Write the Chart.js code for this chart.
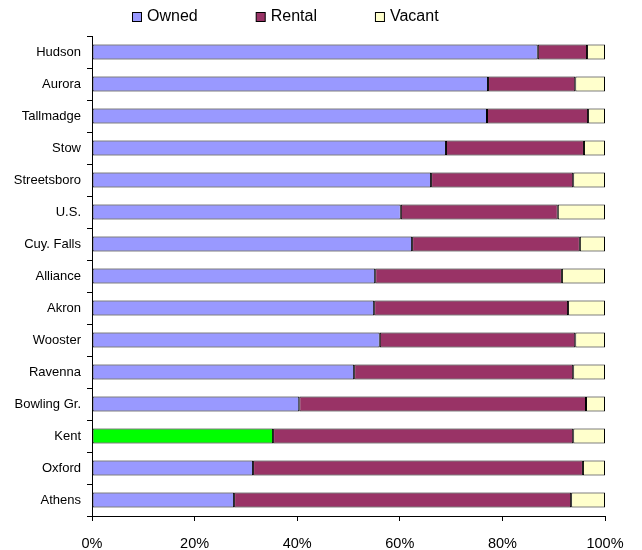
<!DOCTYPE html>
<html>
<head>
<script src="https://cdn.jsdelivr.net/npm/chart.js@4"></script>
<style>
  body { margin: 0; background: #fff; }
</style>
</head>
<body>
<canvas id="myChart" width="642" height="550"></canvas>
<script>
  var places = ['Hudson','Aurora','Tallmadge','Stow','Streetsboro','U.S.','Cuy. Falls','Alliance','Akron','Wooster','Ravenna','Bowling Gr.','Kent','Oxford','Athens']
  var owned  = [86.9, 77.2, 77.0, 69.0, 66.1, 60.2, 62.4, 55.2, 55.0, 56.1, 51.1, 40.4, 35.3, 31.4, 27.7]
  var rental = [ 9.6, 17.0, 19.7, 26.9, 27.7, 30.6, 32.7, 36.4, 37.8, 38.1, 42.7, 55.9, 58.5, 64.3, 65.7]
  var vacant = [ 3.5,  5.8,  3.3,  4.1,  6.2,  9.2,  4.9,  8.4,  7.2,  5.8,  6.2,  3.7,  6.2,  4.3,  6.6]
  var xTicks = [0, 20, 40, 60, 80, 100]
  var seriesNames = ['Owned', 'Rental', 'Vacant']
  var seriesColors = ['#9999FF', '#993366', '#FFFFCC']

  // Kent gets highlighted in green
  var ownedColors = places.map(function(p){ return p == 'Kent' ? '#00FF00' : seriesColors[0] })

  // legend drawn by hand so it sits tight above the plot like the original
  var topLegend = {
    id: 'topLegend',
    afterDraw: function(chart) {
      var c = chart.ctx
      c.save()
      c.font = '16px "Liberation Sans", Arial'
      c.textBaseline = 'middle'
      var x = 132, y = 17
      seriesNames.forEach(function(name, i){
        c.fillStyle = seriesColors[i]
        c.fillRect(x + 0.5, y - 4.5, 9, 9)
        c.strokeStyle = '#000'
        c.lineWidth = 1
        c.strokeRect(x + 0.5, y - 4.5, 9, 9)
        c.fillStyle = '#000'
        c.fillText(name, x + 15, y)
        x += 15 + c.measureText(name).width + 58
      })
      c.restore()
    }
  }

  var ctx = document.getElementById('myChart')
  var myChart = new Chart(ctx, {
    type: 'bar',
    data: {
      labels: places,
      datasets: [
        { label: seriesNames[0], data: owned,  backgroundColor: ownedColors,     borderColor: '#000', borderWidth: 1, borderSkipped: false },
        { label: seriesNames[1], data: rental, backgroundColor: seriesColors[1], borderColor: '#000', borderWidth: 1, borderSkipped: false },
        { label: seriesNames[2], data: vacant, backgroundColor: seriesColors[2], borderColor: '#000', borderWidth: 1, borderSkipped: false }
      ]
    },
    plugins: [topLegend],
    options: {
      indexAxis: 'y',
      responsive: false,
      animation: false,
      barPercentage: 0.47,
      categoryPercentage: 1,
      layout: { padding: { left: 0, right: 37, top: 36, bottom: 0 } },
      plugins: {
        tooltip: { enabled: false },
        legend: { display: false }
      },
      scales: {
        x: {
          stacked: true,
          min: 0,
          max: 100,
          afterBuildTicks: function(scale){ scale.ticks = xTicks.map(function(v){ return { value: v } }) },
          afterFit: function(scale){ scale.height = 34 },
          border: { color: '#000', width: 1 },
          grid: { drawOnChartArea: false, color: '#000', tickLength: 5 },
          ticks: {
            color: '#000',
            font: { family: 'Liberation Sans, Arial', size: 14.5 },
            padding: 14,
            maxRotation: 0,
            callback: function(v){ return v + '%' }
          }
        },
        y: {
          stacked: true,
          afterFit: function(scale){ scale.width = 92 },
          border: { color: '#000', width: 1 },
          grid: { drawOnChartArea: false, color: '#000', tickLength: 5, offset: true },
          ticks: {
            color: '#000',
            font: { family: 'Liberation Sans, Arial', size: 13 },
            padding: 6,
            autoSkip: false
          }
        }
      }
    }
  })
</script>
</body>
</html>
